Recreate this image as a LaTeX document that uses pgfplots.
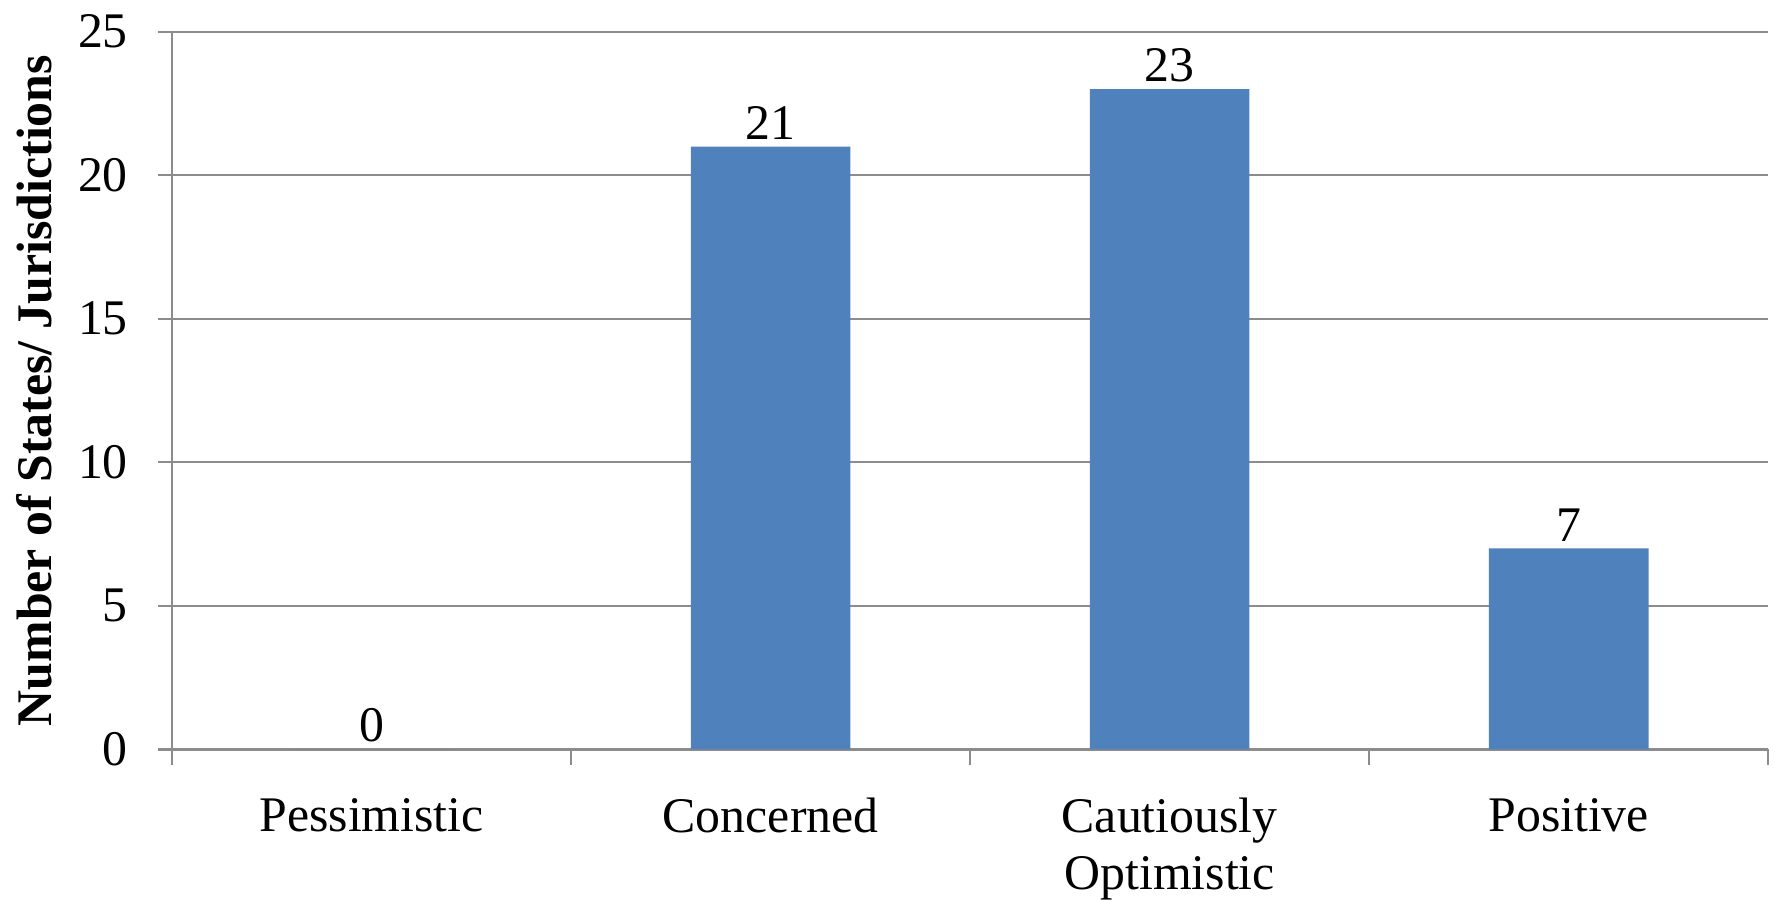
\documentclass[border=0pt]{standalone}
\usepackage{pgfplots}
\pgfplotsset{compat=1.18}
\usepackage{fontspec}
\setmainfont{Liberation Serif}
\definecolor{barblue}{HTML}{4F81BD}
\definecolor{gridgray}{HTML}{8C8C8C}

\begin{document}
\begin{tikzpicture}
\fontsize{22}{25}\selectfont
\begin{axis}[
  width=705pt, height=317pt, scale only axis,
  ybar, bar width=0.4,
  xmin=-0.5, xmax=3.5, ymin=0, ymax=25,
  axis x line*=bottom, axis y line*=left,
  axis line style={gridgray, line width=1pt},
  ytick={0,5,...,25},
  ymajorgrids, grid style={gridgray, line width=1pt},
  tick style={gridgray, line width=1pt},
  tick align=outside,
  major tick length=6pt,
  xtick={0,1,2,3},
  xticklabels={Pessimistic,Concerned,{Cautiously\\Optimistic},Positive},
  x tick style={draw=none},
  extra x ticks={-0.5,0.5,1.5,2.5,3.5},
  extra x tick labels={},
  extra x tick style={grid=none, x tick style={draw=gridgray, line width=1pt}, major tick length=7pt},
  xticklabel style={align=center, font=\fontsize{22}{25}\selectfont, yshift=-8pt},
  yticklabel style={font=\fontsize{22}{25}\selectfont, xshift=-6pt},
  /pgf/number format/assume math mode=true,
  ylabel={\textbf{Number of States/ Jurisdictions}},
  ylabel style={at={(axis description cs:-0.0865,0.5)}, anchor=center, font=\fontsize{22}{25}\selectfont},
  nodes near coords,
  every node near coord/.append style={font=\fontsize{22}{25}\selectfont, black, inner sep=3pt},
  enlargelimits=false,
  clip=false,
]
\addplot[fill=barblue, draw=none] coordinates {(0,0) (1,21) (2,23) (3,7)};
\end{axis}
\pgfresetboundingbox
\useasboundingbox (-76pt,-66.5pt) rectangle (708pt,331pt);
\end{tikzpicture}
\end{document}
